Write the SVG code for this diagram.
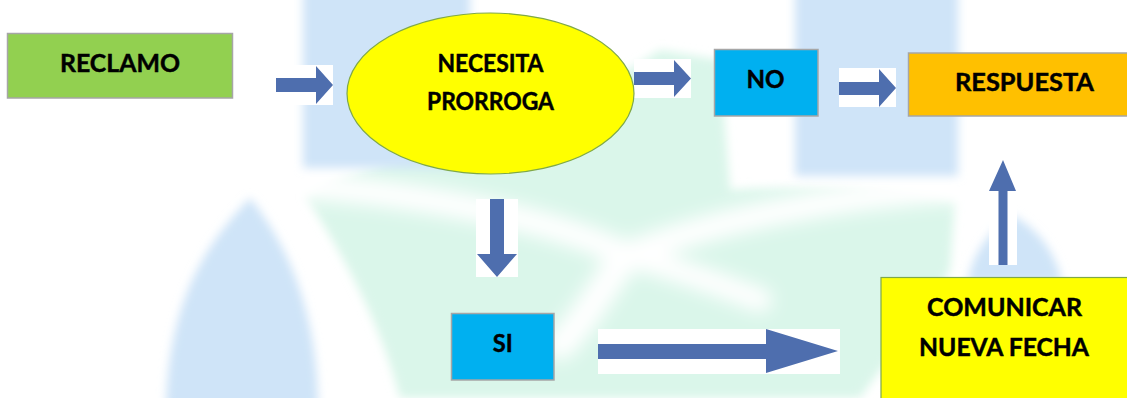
<svg xmlns="http://www.w3.org/2000/svg" width="1127" height="398" viewBox="0 0 1127 398">
<defs>
<filter id="blur" x="-20%" y="-20%" width="140%" height="140%"><feGaussianBlur stdDeviation="5"/></filter>
<filter id="blur2" x="-20%" y="-20%" width="140%" height="140%"><feGaussianBlur stdDeviation="9"/></filter>
</defs>
<style>
.box{stroke:#A6A6A6;stroke-width:1.5}
.lbl{font-family:Lato,"Open Sans","Liberation Sans",sans-serif;font-weight:700;font-size:25px;fill:#000;stroke:#000;stroke-width:0.45;text-anchor:middle}
.arr{fill:#4E6EAE}
.pad{fill:#FFFFFF}
.wm-b{fill:#CFE4F8}
.wm-g{fill:#DAF6EA}
</style>
<rect width="1127" height="398" fill="#FFFFFF"/>
<g id="watermark">
<g filter="url(#blur)">
<path class="wm-g" d="M305,195 C400,150 560,120 660,50 L720,60 L730,190 C800,185 900,190 955,200 L950,270 C920,320 880,370 860,398 L400,398 C380,320 340,250 305,195 Z"/>
</g>
<g filter="url(#blur2)" stroke="#FFFFFF" fill="none" stroke-linecap="round">
<path d="M300,185 C420,195 540,215 627,255 C700,225 830,195 965,188" stroke-width="26"/>
<path d="M627,255 C600,290 585,320 560,345" stroke-width="30"/>
<path d="M627,255 C680,270 720,285 760,300" stroke-width="24"/>
</g>
<g filter="url(#blur)">
<rect class="wm-b" x="303" y="-10" width="167" height="178"/>
<rect class="wm-b" x="795" y="-10" width="163" height="186"/>
<path class="wm-b" d="M250,198 C215,235 168,290 166,410 L318,410 C318,320 292,250 250,198 Z"/>
<path class="wm-b" d="M1012,215 C988,232 972,255 968,282 L1062,282 C1056,255 1040,230 1012,215 Z"/>
</g>
</g>
<g id="connectors">
<rect class="pad" x="276" y="65" width="57" height="40"/>
<polygon class="arr" points="276,78 316,78 316,66 333,85 316,104 316,92 276,92"/>
<rect class="pad" x="634" y="59" width="57" height="39"/>
<polygon class="arr" points="634,72 674,72 674,60 691,78.5 674,97 674,85 634,85"/>
<rect class="pad" x="839" y="68" width="57" height="39"/>
<polygon class="arr" points="839,82 879,82 879,69 896,88 879,107 879,95 839,95"/>
<rect class="pad" x="476" y="199" width="42" height="78"/>
<polygon class="arr" points="490,199 504,199 504,254 517,254 497,277 477,254 490,254"/>
<rect class="pad" x="598" y="329" width="242" height="45"/>
<polygon class="arr" points="598,344 766,344 766,329 838,351 766,373 766,359 598,359"/>
<rect class="pad" x="989" y="160" width="28" height="105"/>
<polygon class="arr" points="998.5,265 998.5,191 989,191 1003,160 1016,191 1007.5,191 1007.5,265"/>
</g>
<g id="reclamo">
<rect class="box" x="7.5" y="33.5" width="225" height="64.5" fill="#92D050"/>
<text class="lbl" x="120" y="72" textLength="120" lengthAdjust="spacingAndGlyphs">RECLAMO</text>
</g>
<g id="necesita">
<ellipse cx="490.5" cy="93.5" rx="143.5" ry="80.5" fill="#FFFF00" stroke="#7FA848" stroke-width="1.2"/>
<text class="lbl" x="490.5" y="72" textLength="106" lengthAdjust="spacingAndGlyphs">NECESITA</text>
<text class="lbl" x="490.5" y="110" textLength="127" lengthAdjust="spacingAndGlyphs">PRORROGA</text>
</g>
<g id="no">
<rect class="box" x="714.5" y="49.5" width="103.5" height="66.5" fill="#00B0F0"/>
<text class="lbl" x="765.5" y="88" textLength="38" lengthAdjust="spacingAndGlyphs">NO</text>
</g>
<g id="respuesta">
<rect class="box" x="908.5" y="53" width="225" height="63" fill="#FFC000"/>
<text class="lbl" x="1024.5" y="91" textLength="139" lengthAdjust="spacingAndGlyphs">RESPUESTA</text>
</g>
<g id="si">
<rect class="box" x="451.5" y="313.5" width="102.5" height="66.5" fill="#00B0F0"/>
<text class="lbl" x="502.7" y="352" textLength="20" lengthAdjust="spacingAndGlyphs">SI</text>
</g>
<g id="comunicar">
<rect x="881" y="277.5" width="250" height="130" fill="#FFFF00" stroke="#7FA848" stroke-width="1.2"/>
<text class="lbl" x="1004.5" y="316" textLength="155" lengthAdjust="spacingAndGlyphs">COMUNICAR</text>
<text class="lbl" x="1004" y="356" textLength="170" lengthAdjust="spacingAndGlyphs">NUEVA FECHA</text>
</g>
</svg>
